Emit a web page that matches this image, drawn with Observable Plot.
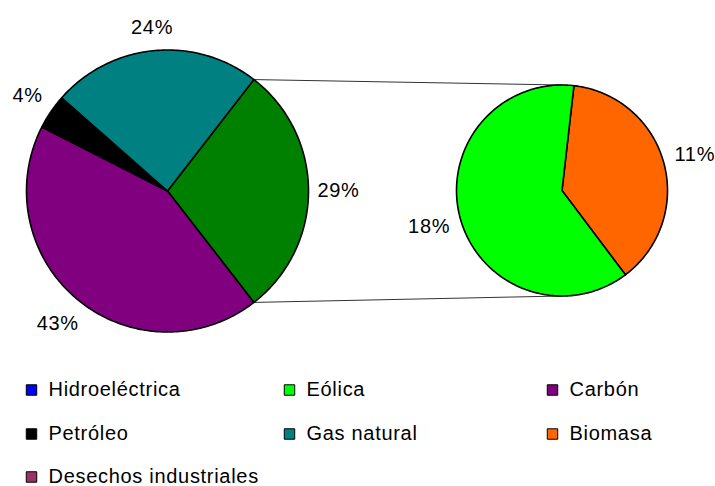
<!DOCTYPE html>
<html>
<head>
<meta charset="utf-8">
<script src="https://cdn.jsdelivr.net/npm/d3@7"></script>
<script src="https://cdn.jsdelivr.net/npm/@observablehq/plot@0.6"></script>
<style>
  html, body { margin: 0; padding: 0; background: #fff; }
  svg { display: block; }
</style>
</head>
<body>
<div id="chart"></div>
<script>
// ---- data ----
const sources = ["Hidroeléctrica", "Eólica", "Carbón", "Petróleo", "Gas natural", "Biomasa", "Desechos industriales"];
const shares  = [0, 18, 43, 4, 24, 11, 0];
const colors  = ["#0000FF", "#00FF00", "#800080", "#000000", "#008080", "#FF6600", "#993366"];
// main pie slices (clockwise from the "other" slice) and secondary pie slices
const mainOrder = ["Otros", "Carbón", "Petróleo", "Gas natural"];
const secondaryOrder = ["Biomasa", "Eólica"];
const otherColor = "#008000";

// ---- layout ----
const W = 715, H = 486;
const FONT = "Liberation Sans, Arial, sans-serif";
const FS = 20;
const mainC = [167, 190.5], mainR = 141;
const secC = [561.5, 190], secR = 105.5;
const secStartDeg = 6.5;

const val = name => shares[sources.indexOf(name)];
const col = name => colors[sources.indexOf(name)];
const secTotal = d3.sum(secondaryOrder, val);
const total = d3.sum(shares);

const mainData = mainOrder.map(n => n === "Otros"
  ? {name: n, value: secTotal, color: otherColor}
  : {name: n, value: val(n), color: col(n)});
const secData = secondaryOrder.map(n => ({name: n, value: val(n), color: col(n)}));

const rad = Math.PI / 180;
// "Otros" slice centered at 3 o'clock, facing the secondary pie
const mainStart = Math.PI / 2 - (secTotal / total) * Math.PI;

function buildPie(data, start, c, r, tag) {
  const arcs = d3.pie().sort(null).value(d => d.value)
    .startAngle(start).endAngle(start + 2 * Math.PI)(data);
  const pts = [], labels = [];
  for (const a of arcs) {
    if (a.data.value <= 0) continue;
    const key = tag + a.data.name;
    pts.push({key, color: a.data.color, x: c[0], y: c[1]});
    const n = Math.max(2, Math.ceil((a.endAngle - a.startAngle) / rad));
    for (let i = 0; i <= n; i++) {
      const t = a.startAngle + (a.endAngle - a.startAngle) * i / n;
      pts.push({key, color: a.data.color, x: c[0] + r * Math.sin(t), y: c[1] - r * Math.cos(t)});
    }
    const m = (a.startAngle + a.endAngle) / 2;
    const text = Math.round(a.data.value / total * 100) + "%";
    const w = (text.length - 1) * 0.556 * FS + 0.889 * FS;
    const d = r + 10 + Math.abs(Math.sin(m)) * w / 2 + Math.abs(Math.cos(m)) * 11;
    labels.push({text, x: c[0] + d * Math.sin(m), y: c[1] - d * Math.cos(m)});
  }
  return {arcs, pts, labels};
}

const mainPie = buildPie(mainData, mainStart, mainC, mainR, "m-");
const secPie = buildPie(secData, secStartDeg * rad, secC, secR, "s-");

const otherArc = mainPie.arcs.find(a => a.data.name === "Otros");
const connectors = [
  {x1: mainC[0] + mainR * Math.sin(otherArc.startAngle), y1: mainC[1] - mainR * Math.cos(otherArc.startAngle),
   x2: secC[0], y2: secC[1] - secR},
  {x1: mainC[0] + mainR * Math.sin(otherArc.endAngle), y1: mainC[1] - mainR * Math.cos(otherArc.endAngle),
   x2: secC[0], y2: secC[1] + secR}
];

// legend: 3 columns
const legColX = [31, 289, 552];
const legRowY = [389.5, 433.5, 476.5];
const legend = sources.map((s, i) => ({
  name: s, color: colors[i],
  x: legColX[i % 3], y: legRowY[Math.floor(i / 3)]
}));

const chart = Plot.plot({
  width: W, height: H, margin: 0,
  x: {domain: [0, W], range: [0, W], axis: null},
  y: {domain: [0, H], range: [0, H], axis: null},
  color: {type: "identity"},
  style: {fontFamily: FONT, background: "#fff"},
  marks: [
    Plot.link(connectors, {x1: "x1", y1: "y1", x2: "x2", y2: "y2", stroke: "#333", strokeWidth: 1}),
    Plot.line(mainPie.pts, {x: "x", y: "y", z: "key", fill: "color", stroke: "#000", strokeWidth: 1.6, curve: "linear-closed", strokeLinejoin: "round"}),
    Plot.line(secPie.pts, {x: "x", y: "y", z: "key", fill: "color", stroke: "#000", strokeWidth: 1.6, curve: "linear-closed", strokeLinejoin: "round"}),
    Plot.text(mainPie.labels.concat(secPie.labels), {x: "x", y: "y", text: "text", fontSize: FS, fill: "#000", style: "letter-spacing:0.5px"}),
    Plot.dot(legend, {x: "x", y: "y", symbol: "square", r: 5.9, fill: "color", stroke: "#000", strokeWidth: 1}),
    Plot.text(legend, {x: d => d.x + 17, y: "y", text: "name", textAnchor: "start", fontSize: FS, fill: "#000"})
  ]
});
chart.querySelectorAll("text").forEach(t => t.style.letterSpacing = "0.7px");
document.getElementById("chart").appendChild(chart);
</script>
</body>
</html>
